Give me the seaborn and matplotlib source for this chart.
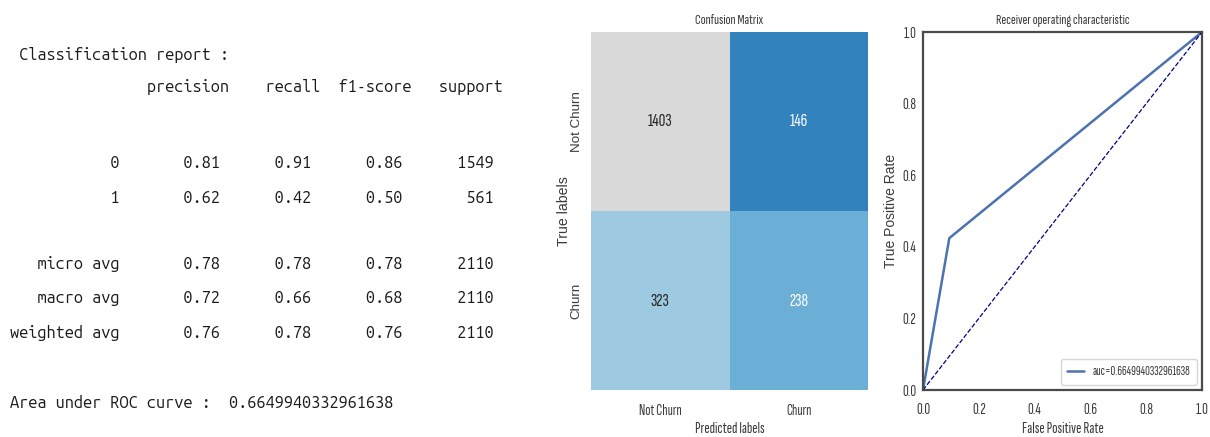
import matplotlib
matplotlib.use("Agg")
import matplotlib.pyplot as plt
from matplotlib.colors import ListedColormap, BoundaryNorm
import numpy as np
import pandas as pd
import seaborn as sns

# ---- classification report values ----
class_names = ["0", "1"]
precision = [0.81, 0.62]
recall = [0.91, 0.42]
f1_score = [0.86, 0.50]
support = [1549, 561]

avg_names = ["micro avg", "macro avg", "weighted avg"]
avg_precision = [0.78, 0.72, 0.76]
avg_recall = [0.78, 0.66, 0.78]
avg_f1 = [0.78, 0.68, 0.76]
avg_support = [2110, 2110, 2110]

roc_auc = 0.6649940332961638

# ---- confusion matrix ----
cm_labels = ["Not Churn", "Churn"]
cm_values = [[1403, 146],
             [323, 238]]

# ---- ROC curve points ----
fpr = [0.0, 0.0943, 1.0]
tpr = [0.0, 0.4242, 1.0]
chance = [0.0, 1.0]
roc_ticks = [0.0, 0.2, 0.4, 0.6, 0.8, 1.0]

sns.set_theme(style="white")
COND = ["Sofia Sans Extra Condensed", "DejaVu Sans"]
WIDE = ["Liberation Sans", "DejaVu Sans"]
MONO = ["Ubuntu Mono", "DejaVu Sans Mono"]
plt.rcParams["font.family"] = COND
TXT = "#3a3a3a"

W, H = 1210, 437
fig = plt.figure(figsize=(W / 100, H / 100), dpi=100)
fig.patch.set_facecolor("white")


def fx(px):
    return px / W


def fy(py):
    return 1 - py / H


# ---- printed classification report (sklearn layout) ----
width = max(len(n) for n in avg_names)
headers = ["precision", "recall", "f1-score", "support"]
head_line = " " + "{:>{w}s} ".format("", w=width) + "".join(" {:>9}".format(h) for h in headers)
row_fmt = "{:>{w}s} " + " {:>9.2f}" * 3 + " {:>9}"

report_lines = [(" Classification report :", 60), (head_line, 92)]
row_baselines = [168, 203]
for name, p, r, f, s, yb in zip(class_names, precision, recall, f1_score, support, row_baselines):
    report_lines.append((row_fmt.format(name, p, r, f, s, w=width), yb))
avg_baselines = [269, 303, 338]
for name, p, r, f, s, yb in zip(avg_names, avg_precision, avg_recall, avg_f1, avg_support, avg_baselines):
    report_lines.append((row_fmt.format(name, p, r, f, s, w=width), yb))
report_lines.append(("Area under ROC curve :  " + repr(roc_auc), 408))

for line, yb in report_lines:
    fig.text(fx(10), fy(yb), line, family=MONO, fontsize=11.8,
             ha="left", va="baseline", color="#1a1a1a")

# ---- confusion matrix heatmap ----
ax_cm = fig.add_axes([fx(591), fy(390), fx(868) - fx(591), fy(32) - fy(390)])
cm_df = pd.DataFrame(cm_values, index=cm_labels, columns=cm_labels)
cell_cmap = ListedColormap(["#3182bd", "#6baed6", "#9ecae1", "#d9d9d9"])
cell_norm = BoundaryNorm([0, 190, 280, 800, 2000], cell_cmap.N)
sns.heatmap(cm_df, annot=True, fmt="d", cmap=cell_cmap, norm=cell_norm,
            cbar=False, ax=ax_cm,
            annot_kws=dict(fontsize=13.5, family=COND))
ax_cm.set_title("Confusion Matrix", fontsize=10.5, color=TXT, pad=6, family=COND)
ax_cm.set_xlabel("Predicted labels", fontsize=11.5, color=TXT, family=COND)
ax_cm.set_ylabel("True labels", fontsize=10.2, color=TXT, family=WIDE)
ax_cm.xaxis.set_label_coords(0.5, -0.088)
ax_cm.yaxis.set_label_coords(-0.072, 0.5)
ax_cm.set_xticklabels(cm_labels, rotation=0, fontsize=11, color=TXT, family=COND)
ax_cm.set_yticklabels(cm_labels, rotation=90, va="center", fontsize=9.6, color=TXT, family=WIDE)
ax_cm.tick_params(axis="x", length=0, pad=10)
ax_cm.tick_params(axis="y", length=0, pad=6)

# ---- ROC curve ----
ax_roc = fig.add_axes([fx(923), fy(390), fx(1202) - fx(923), fy(32) - fy(390)])
sns.lineplot(x=fpr, y=tpr, ax=ax_roc, color="#4c72b0", lw=1.8,
             sort=False, estimator=None, label="auc=" + repr(roc_auc))
ax_roc.plot(chance, chance, color="navy", lw=0.9, ls="--")
ax_roc.set_xlim(0, 1)
ax_roc.set_ylim(0, 1)
ax_roc.set_xticks(roc_ticks)
ax_roc.set_yticks(roc_ticks)
ax_roc.set_xticklabels([f"{t:.1f}" for t in roc_ticks], fontsize=11.5, color=TXT, family=COND)
ax_roc.set_yticklabels([f"{t:.1f}" for t in roc_ticks], fontsize=11.5, color=TXT, family=COND)
ax_roc.tick_params(axis="x", length=0, pad=9)
ax_roc.tick_params(axis="y", length=0, pad=5)
ax_roc.set_title("Receiver operating characteristic", fontsize=10.5, color=TXT, pad=6, family=COND)
ax_roc.set_xlabel("False Positive Rate", fontsize=11.5, color=TXT, family=COND)
ax_roc.set_ylabel("True Positive Rate", fontsize=10, color=TXT, family=WIDE)
ax_roc.xaxis.set_label_coords(0.5, -0.088)
ax_roc.yaxis.set_label_coords(-0.09, 0.5)
for sp in ax_roc.spines.values():
    sp.set_color("#4a4a4a")
    sp.set_linewidth(1.6)
leg = ax_roc.legend(loc="lower right", prop=dict(family=COND, size=9.5),
                    frameon=True, handlelength=1.3, handletextpad=0.6,
                    borderpad=0.5, borderaxespad=0.4)
leg.get_frame().set_edgecolor("#cccccc")
for t in leg.get_texts():
    t.set_color(TXT)

fig.savefig("out.png", dpi=100, facecolor="white")
